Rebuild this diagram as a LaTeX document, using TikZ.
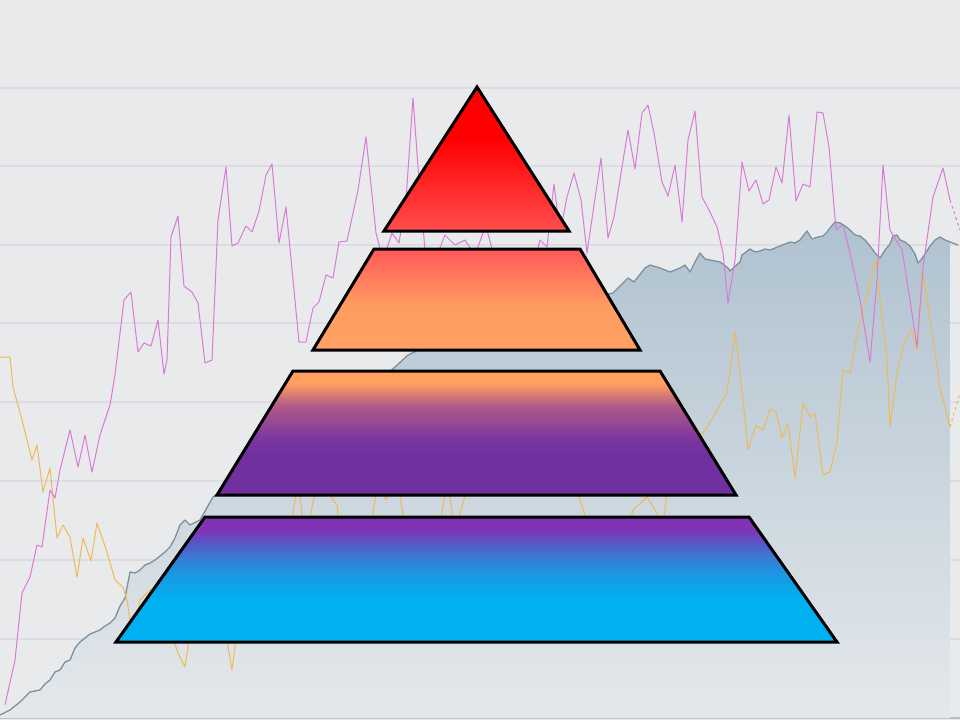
\documentclass[tikz,border=0pt]{standalone}
\usepackage{tikz}

\definecolor{chartbg}{HTML}{E9EAEC}
\definecolor{gridgray}{HTML}{DCDDE0}
\definecolor{areatop}{HTML}{AFC2D0}
\definecolor{areabot}{HTML}{E4E8EB}
\definecolor{areaedge}{HTML}{7C90A0}
\definecolor{pinkline}{HTML}{D97AD9}
\definecolor{goldline}{HTML}{EFBA55}
% tier colours
\definecolor{redtop}{RGB}{255,0,0}
\definecolor{redlow}{RGB}{255,78,78}
\definecolor{salmon}{RGB}{255,88,88}
\definecolor{peach}{RGB}{255,156,98}
\definecolor{peachlow}{RGB}{255,160,100}
\definecolor{orangetop}{RGB}{255,160,96}
\definecolor{mauve}{RGB}{176,90,136}
\definecolor{violetmid}{RGB}{122,53,160}
\definecolor{violet}{RGB}{112,48,160}
\definecolor{purpletop}{RGB}{128,51,181}
\definecolor{indigo}{RGB}{90,85,197}
\definecolor{midblue}{RGB}{58,122,210}
\definecolor{skyblue}{RGB}{26,152,228}
\definecolor{cyanlow}{RGB}{0,176,240}

% tier shadings (path box runs from 25bp to 75bp)
\pgfdeclareverticalshading{tierone}{100bp}{color(0bp)=(redlow); color(25bp)=(redlow);
  color(57bp)=(redtop); color(100bp)=(redtop)}
\pgfdeclareverticalshading{tiertwo}{100bp}{color(0bp)=(peachlow); color(25bp)=(peachlow);
  color(47bp)=(peach); color(75bp)=(salmon); color(100bp)=(salmon)}
\pgfdeclareverticalshading{tierthree}{100bp}{color(0bp)=(violet); color(41bp)=(violet);
  color(47bp)=(violetmid); color(61bp)=(mauve); color(70bp)=(orangetop); color(100bp)=(orangetop)}
\pgfdeclareverticalshading{tierfour}{100bp}{color(0bp)=(cyanlow); color(42bp)=(cyanlow);
  color(52bp)=(skyblue); color(59bp)=(midblue); color(65bp)=(indigo); color(70bp)=(purpletop);
  color(100bp)=(purpletop)}

\begin{document}
\begin{tikzpicture}[
    x=1pt, y=-1pt,
    tier/.style={draw=black, line width=3pt, line join=miter},
    gridline/.style={draw=gridgray, line width=1.4pt},
    series/.style={line width=1pt, line join=round}
]
\useasboundingbox[fill=chartbg] (0,0) rectangle (960,720);

% chart in the background
\foreach \gy in {88,166,245,323,402,481,560,639}
  \draw[gridline] (0,\gy) -- (960,\gy);
\draw[draw=gridgray!85!black, line width=1.5pt] (0,718) -- (960,718);

\shade[top color=areatop, bottom color=areabot]
  (0,715) -- (10,710) -- (20,702) -- (30,692) -- (40,690) -- (45,684) -- (50,680) -- (55,672)
  -- (60,670) -- (65,662) -- (70,660) -- (75,648) -- (80,642) -- (85,638) -- (90,634) -- (100,630)
  -- (105,626) -- (110,623) -- (115,618) -- (120,606) -- (125,598) -- (130,572) -- (135,573)
  -- (140,570) -- (145,565) -- (150,563) -- (155,560) -- (160,556) -- (165,552) -- (170,547)
  -- (175,538) -- (180,525) -- (185,520) -- (190,525) -- (200,520) -- (213,497) -- (260,460)
  -- (320,420) -- (370,390) -- (408,355) -- (450,335) -- (500,320) -- (560,305) -- (613,293)
  -- (628,278) -- (634,282) -- (645,268) -- (650,265) -- (660,268) -- (670,272) -- (680,268)
  -- (685,265) -- (690,272) -- (695,262) -- (700,253) -- (705,259) -- (710,260) -- (720,262)
  -- (728,268) -- (730,271) -- (740,262) -- (742,255) -- (750,249) -- (755,252) -- (760,251)
  -- (765,249) -- (770,250) -- (775,248) -- (780,246) -- (785,244) -- (790,242) -- (795,243)
  -- (800,240) -- (803,236) -- (807,231) -- (812,239) -- (818,237) -- (823,236) -- (827,232)
  -- (830,228) -- (835,222) -- (840,223) -- (845,226) -- (850,230) -- (855,235) -- (860,236)
  -- (865,240) -- (870,246) -- (875,253) -- (880,258) -- (885,250) -- (890,244) -- (893,236)
  -- (897,235) -- (900,240) -- (905,242) -- (910,246) -- (915,254) -- (918,263) -- (921,260)
  -- (925,254) -- (930,246) -- (935,240) -- (940,237) -- (945,240) -- (950,242)
  -- (950,718) -- (0,718) -- cycle;
\draw[areaedge, line width=1.3pt, line join=round]
  (0,715) -- (10,710) -- (20,702) -- (30,692) -- (40,690) -- (45,684) -- (50,680) -- (55,672)
  -- (60,670) -- (65,662) -- (70,660) -- (75,648) -- (80,642) -- (85,638) -- (90,634) -- (100,630)
  -- (105,626) -- (110,623) -- (115,618) -- (120,606) -- (125,598) -- (130,572) -- (135,573)
  -- (140,570) -- (145,565) -- (150,563) -- (155,560) -- (160,556) -- (165,552) -- (170,547)
  -- (175,538) -- (180,525) -- (185,520) -- (190,525) -- (200,520) -- (213,497) -- (260,460)
  -- (320,420) -- (370,390) -- (408,355) -- (450,335) -- (500,320) -- (560,305) -- (613,293)
  -- (628,278) -- (634,282) -- (645,268) -- (650,265) -- (660,268) -- (670,272) -- (680,268)
  -- (685,265) -- (690,272) -- (695,262) -- (700,253) -- (705,259) -- (710,260) -- (720,262)
  -- (728,268) -- (730,271) -- (740,262) -- (742,255) -- (750,249) -- (755,252) -- (760,251)
  -- (765,249) -- (770,250) -- (775,248) -- (780,246) -- (785,244) -- (790,242) -- (795,243)
  -- (800,240) -- (803,236) -- (807,231) -- (812,239) -- (818,237) -- (823,236) -- (827,232)
  -- (830,228) -- (835,222) -- (840,223) -- (845,226) -- (850,230) -- (855,235) -- (860,236)
  -- (865,240) -- (870,246) -- (875,253) -- (880,258) -- (885,250) -- (890,244) -- (893,236)
  -- (897,235) -- (900,240) -- (905,242) -- (910,246) -- (915,254) -- (918,263) -- (921,260)
  -- (925,254) -- (930,246) -- (935,240) -- (940,237) -- (945,240) -- (950,242) -- (958,245);

\draw[series, goldline]
  (0,357) -- (10,357) -- (13,387) -- (22,420) -- (32,460) -- (37,445) -- (43,492) -- (50,468)
  -- (57,538) -- (63,525) -- (70,537) -- (77,577) -- (83,538) -- (91,561) -- (97,523) -- (107,552)
  -- (115,580) -- (123,587) -- (127,600) -- (133,640) -- (140,600) -- (150,590) -- (160,610)
  -- (170,630) -- (178,653) -- (185,667) -- (188,647) -- (195,600) -- (205,560) -- (215,540)
  -- (225,600) -- (228,647) -- (232,670) -- (235,647) -- (245,590) -- (260,560) -- (280,600)
  -- (298,480) -- (305,540) -- (320,470) -- (330,495) -- (337,505) -- (342,560) -- (360,600)
  -- (378,480) -- (386,500) -- (395,470) -- (402,508) -- (410,560) -- (430,590) -- (447,480)
  -- (455,530) -- (470,480) -- (490,420) -- (510,380) -- (530,400) -- (550,440) -- (570,470)
  -- (590,530) -- (610,560) -- (625,540) -- (633,510) -- (647,497) -- (657,513) -- (662,540)
  -- (668,480) -- (690,450) -- (707,427)
  -- (713,417) -- (727,393) -- (735,332) -- (743,400) -- (748,450) -- (756,425) -- (763,430)
  -- (770,409) -- (776,412) -- (782,438) -- (788,423) -- (795,478) -- (803,403) -- (810,417)
  -- (815,413) -- (823,475) -- (830,472) -- (837,442) -- (843,370) -- (850,373) -- (855,345)
  -- (862,313) -- (868,290) -- (876,260) -- (880,300) -- (887,360) -- (890,427) -- (897,373)
  -- (905,340) -- (912,330) -- (917,350) -- (923,273) -- (932,333) -- (940,387) -- (950,427);
\draw[series, goldline, dashed] (950,427) -- (960,393);

\draw[series, pinkline]
  (5,705) -- (15,660) -- (22,593) -- (30,577) -- (37,545) -- (42,547) -- (50,490) -- (55,498)
  -- (60,470) -- (70,430) -- (78,467) -- (85,435) -- (92,472) -- (100,435) -- (110,405)
  -- (115,375) -- (124,300) -- (131,292) -- (138,352) -- (144,343) -- (151,346) -- (158,320)
  -- (164,374) -- (167,360) -- (171,237) -- (178,216) -- (184,286) -- (192,292) -- (198,303)
  -- (205,363) -- (212,360) -- (218,220) -- (226,167) -- (232,246) -- (238,243) -- (246,226)
  -- (252,232) -- (259,211) -- (266,175) -- (272,164) -- (279,243) -- (286,207) -- (299,342)
  -- (306,342) -- (313,308) -- (319,302) -- (326,275) -- (333,278) -- (339,242) -- (347,241)
  -- (358,190) -- (366,137) -- (376,233) -- (383,260) -- (392,233) -- (399,243) -- (406,200)
  -- (413,98) -- (418,167) -- (425,250) -- (435,260) -- (445,235) -- (455,245) -- (465,240)
  -- (475,255) -- (483,233) -- (487,230) -- (495,260) -- (505,350) -- (515,345) -- (525,300)
  -- (540,240) -- (547,247) -- (554,184) -- (560,233) -- (567,197) -- (574,173) -- (581,200)
  -- (587,253) -- (594,205) -- (601,158) -- (608,238) -- (614,217) -- (622,167) -- (628,130)
  -- (635,169) -- (642,113) -- (648,105) -- (654,133) -- (662,182) -- (668,196) -- (675,165)
  -- (682,222) -- (688,140) -- (695,111) -- (702,197) -- (710,212) -- (717,227) -- (723,253)
  -- (728,303) -- (735,260) -- (742,162) -- (749,191) -- (756,180) -- (763,204) -- (769,200)
  -- (776,167) -- (782,183) -- (789,115) -- (796,201) -- (803,184) -- (810,187) -- (817,112)
  -- (823,113) -- (829,147) -- (836,230) -- (843,225) -- (850,253) -- (860,300) -- (870,362)
  -- (877,280) -- (883,165) -- (890,230) -- (902,250) -- (910,300) -- (917,347) -- (923,267)
  -- (933,197) -- (943,168) -- (950,200);
\draw[series, pinkline, dashed] (950,200) -- (960,230);

% pyramid
\path[tier, shading=tierfour] (205,517) -- (749,517) -- (837,642) -- (116,642) -- cycle;
\path[tier, shading=tierthree] (293,371) -- (660,371) -- (736,495) -- (217,495) -- cycle;
\path[tier, shading=tiertwo] (374,249) -- (580,249) -- (640,350) -- (313,350) -- cycle;
\path[tier, shading=tierone] (477,87) -- (569,231) -- (384,231) -- cycle;
\end{tikzpicture}
\end{document}
